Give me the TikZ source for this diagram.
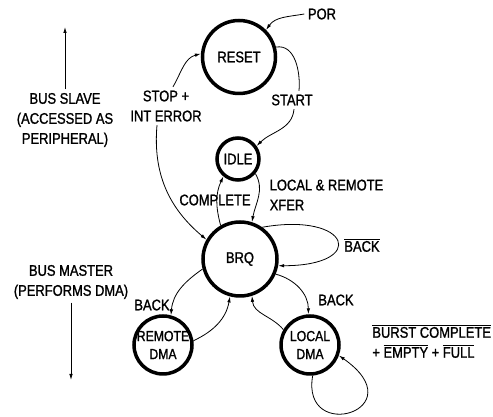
\documentclass[tikz,border=0pt]{standalone}
\usepackage{amsmath}
\usepackage{fontspec}
\setmainfont[FakeStretch=0.84, FakeBold=1.2]{Liberation Sans}
\usetikzlibrary{arrows.meta, positioning, calc}
\newcommand{\ovl}[1]{$\overline{\mbox{#1}}$}

\begin{document}
\begin{tikzpicture}[x=1pt, y=1pt,
        font=\fontsize{15.4}{20}\selectfont,
        line width=0.8pt,
        >={Latex[length=6pt,width=3.5pt]},
        state/.style={circle, draw, line width=3.5pt, inner sep=0pt, align=center},
        dmatext/.style={align=center, font=\fontsize{14.6}{18}\selectfont}]

            \useasboundingbox (0,0) rectangle (493,417);

            % states
            \node[state, minimum size=73pt] (reset) at (239,360) {RESET};
            \node[state, minimum size=42pt] (idle) at (238,258) {IDLE};
            \node[state, minimum size=74pt] (brq) at (240,158) {BRQ};
            \node[state, minimum size=58pt, label={[dmatext]center:REMOTE\\DMA}] (remote) at (163,72) {};
            \node[state, minimum size=58pt, label={[dmatext]center:LOCAL\\DMA}] (local) at (310,72) {};

            % texts
            \node (por) at (322,403) {POR};
            \node (start) at (292,317) {START};
            \node[align=center] (stop) at (166,311) {STOP +\\INT ERROR};
            \node[align=center] (slave) at (65,297) {BUS SLAVE\\(ACCESSED AS\\PERIPHERAL)};
            \node[align=center] (master) at (71,135) {BUS MASTER\\(PERFORMS DMA)};
            \node (complete) at (215,217) {COMPLETE};
            \node[align=left, anchor=west] (xfer) at (266,222) {LOCAL \& REMOTE\\XFER};
            \node (nback) at (362,172) {\ovl{BACK}};
            \node (rback) at (152,112) {BACK};
            \node (lback) at (336,117) {BACK};
            \node[align=left, anchor=west, inner sep=1pt] (burst) at (371,76) {\ovl{BURST COMPLETE}\\+ \ovl{EMPTY} + \ovl{FULL}};

            \coordinate (slavetop) at (65,390);
            \coordinate (masterbot) at (71,37);
            \draw[->] (slave.north) -- (slave.north |- slavetop);
            \draw[->] (master.south) -- (master.south |- masterbot);

            % transitions
            \draw[->] (por.west) to[out=190, in=55] (reset.45);
            \draw (reset.15) to[out=10, in=85] ([xshift=7pt]start.north);
            \draw[->] ([xshift=2pt]start.south) to[out=-95, in=45] (idle.35);
            \draw[->] ([xshift=7pt]stop.north) to[out=60, in=195] (reset.175);
            \draw[->] ([xshift=-9pt]stop.south) to[out=-95, in=140] (brq.150);
            \draw[->] (idle.-40) to[out=-60, in=80] (brq.72);
            \draw[->] (brq.120) to[out=105, in=-115] (idle.230);
            \draw[->] (brq.55) .. controls +(10:90) and +(0:90) .. (brq.-10);
            \draw[->] (brq.195) to[out=215, in=85] (remote.75);
            \draw[->] (remote.8) to[out=25, in=-100] (brq.-105);
            \draw[->] (brq.-23) to[out=-15, in=90] (local.93);
            \draw[->] (local.150) to[out=130, in=-85] (brq.-72);
            \draw[->] (local.-85) .. controls +(-100:70) and +(-35:95) .. (local.-20);
        \end{tikzpicture}
\end{document}
